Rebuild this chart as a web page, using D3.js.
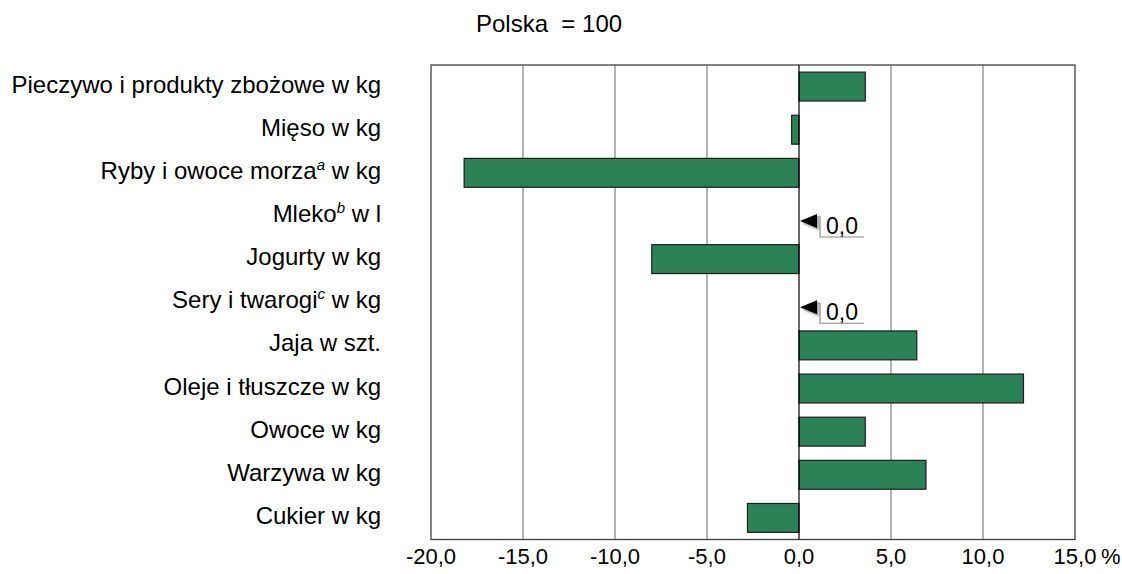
<!DOCTYPE html>
<html><head><meta charset="utf-8">
<script src="https://cdn.jsdelivr.net/npm/d3@7"></script>
<style>body{margin:0;background:#fff}svg{display:block;font-family:"Liberation Sans",Arial,sans-serif}</style>
</head><body>
<svg id="c" width="1122" height="574"></svg>
<script>
const categories = ["Pieczywo i produkty zbożowe w kg","Mięso w kg","Ryby i owoce morza|a| w kg","Mleko|b| w l","Jogurty w kg","Sery i twarogi|c| w kg","Jaja w szt.","Oleje i tłuszcze w kg","Owoce w kg","Warzywa w kg","Cukier w kg"];
const values = [3.6,-0.4,-18.2,0.0,-8.0,0.0,6.4,12.2,3.6,6.9,-2.8];
const ticks = [-20,-15,-10,-5,0,5,10,15];
const title = "Polska  = 100";

const svg = d3.select("#c");
const L=431,R=1075,T=65,B=539.5;
const x = d3.scaleLinear().domain([-20,15]).range([L,R]);
const y = d3.scaleBand().domain(d3.range(categories.length)).range([T,B]).paddingInner(0.33).paddingOuter(0.165);
const fmt = v => d3.format(".1f")(v).replace(".",",").replace("−","-");

// grid
svg.append("g").selectAll("line").data(ticks.filter(t=>t!==0 && t!==-20 && t!==15)).join("line")
  .attr("x1",d=>x(d)).attr("x2",d=>x(d)).attr("y1",T).attr("y2",B)
  .attr("stroke","#a0a0a0").attr("stroke-width",1.6);
// frame
svg.append("rect").attr("x",L).attr("y",T).attr("width",R-L).attr("height",B-T)
  .attr("fill","none").attr("stroke","#404040").attr("stroke-width",1.3);

// bars
svg.append("g").selectAll("rect").data(values).join("rect")
  .attr("x",d=>x(Math.min(0,d))).attr("width",d=>Math.abs(x(d)-x(0)))
  .attr("y",(d,i)=>y(i)).attr("height",y.bandwidth())
  .attr("fill","#2b8257").attr("stroke","#1e1e1e").attr("stroke-width",1.2);

// zero line
svg.append("line").attr("x1",x(0)).attr("x2",x(0)).attr("y1",T).attr("y2",B).attr("stroke","#000").attr("stroke-width",1.2);

// category labels
const lab = svg.append("g").attr("font-size",24).attr("fill","#000");
categories.forEach((c,i)=>{
  const t = lab.append("text").attr("x",381).attr("y",y(i)+y.bandwidth()/2+6).attr("text-anchor","end");
  const parts = c.split("|");
  parts.forEach((p,k)=>{
    if(k%2===1){
      t.append("tspan").text(p).attr("font-size",15).attr("font-style","italic").attr("dy",-9);
    } else {
      const ts = t.append("tspan").text(p);
      if(k>0) ts.attr("dy",9);
    }
  });
});

// x axis labels
const ax = svg.append("g").attr("font-size",22).attr("fill","#000");
ax.selectAll("text").data(ticks).join("text")
  .attr("x",d=>x(d)).attr("y",564).attr("text-anchor","middle").text(d=>fmt(d));
ax.append("text").attr("x",x(15)+26).attr("y",564).text("%");

// title
svg.append("text").attr("x",476).attr("y",32).attr("font-size",24).style("white-space","pre").text(title);

// zero-value callouts
const zero = values.map((v,i)=>({v,i})).filter(d=>d.v===0);
const defs = svg.append("defs");
defs.append("filter").attr("id","sh").append("feGaussianBlur").attr("stdDeviation",1.2);
zero.forEach(d=>{
  const cy = y(d.i)+y.bandwidth()/2;
  const x0 = x(0)+1, ay = cy+5;
  const g = svg.append("g");
  g.append("path").attr("d",`M${x0+2},${ay+2} L${x0+19},${ay-5} L${x0+19},${ay+9} Z`).attr("fill","#999").attr("filter","url(#sh)");
  g.append("path").attr("d",`M${x0},${ay} L${x0+17},${ay-7} L${x0+17},${ay+7} Z`).attr("fill","#000");
  g.append("path").attr("d",`M${x0+17},${ay-4} H${x0+20} V${cy+21} H${x0+64}`).attr("fill","none").attr("stroke","#8c8c8c").attr("stroke-width",1.2);
  g.append("text").attr("x",x0+26).attr("y",cy+18).attr("font-size",23).text(fmt(d.v));
});
</script>
</body></html>
